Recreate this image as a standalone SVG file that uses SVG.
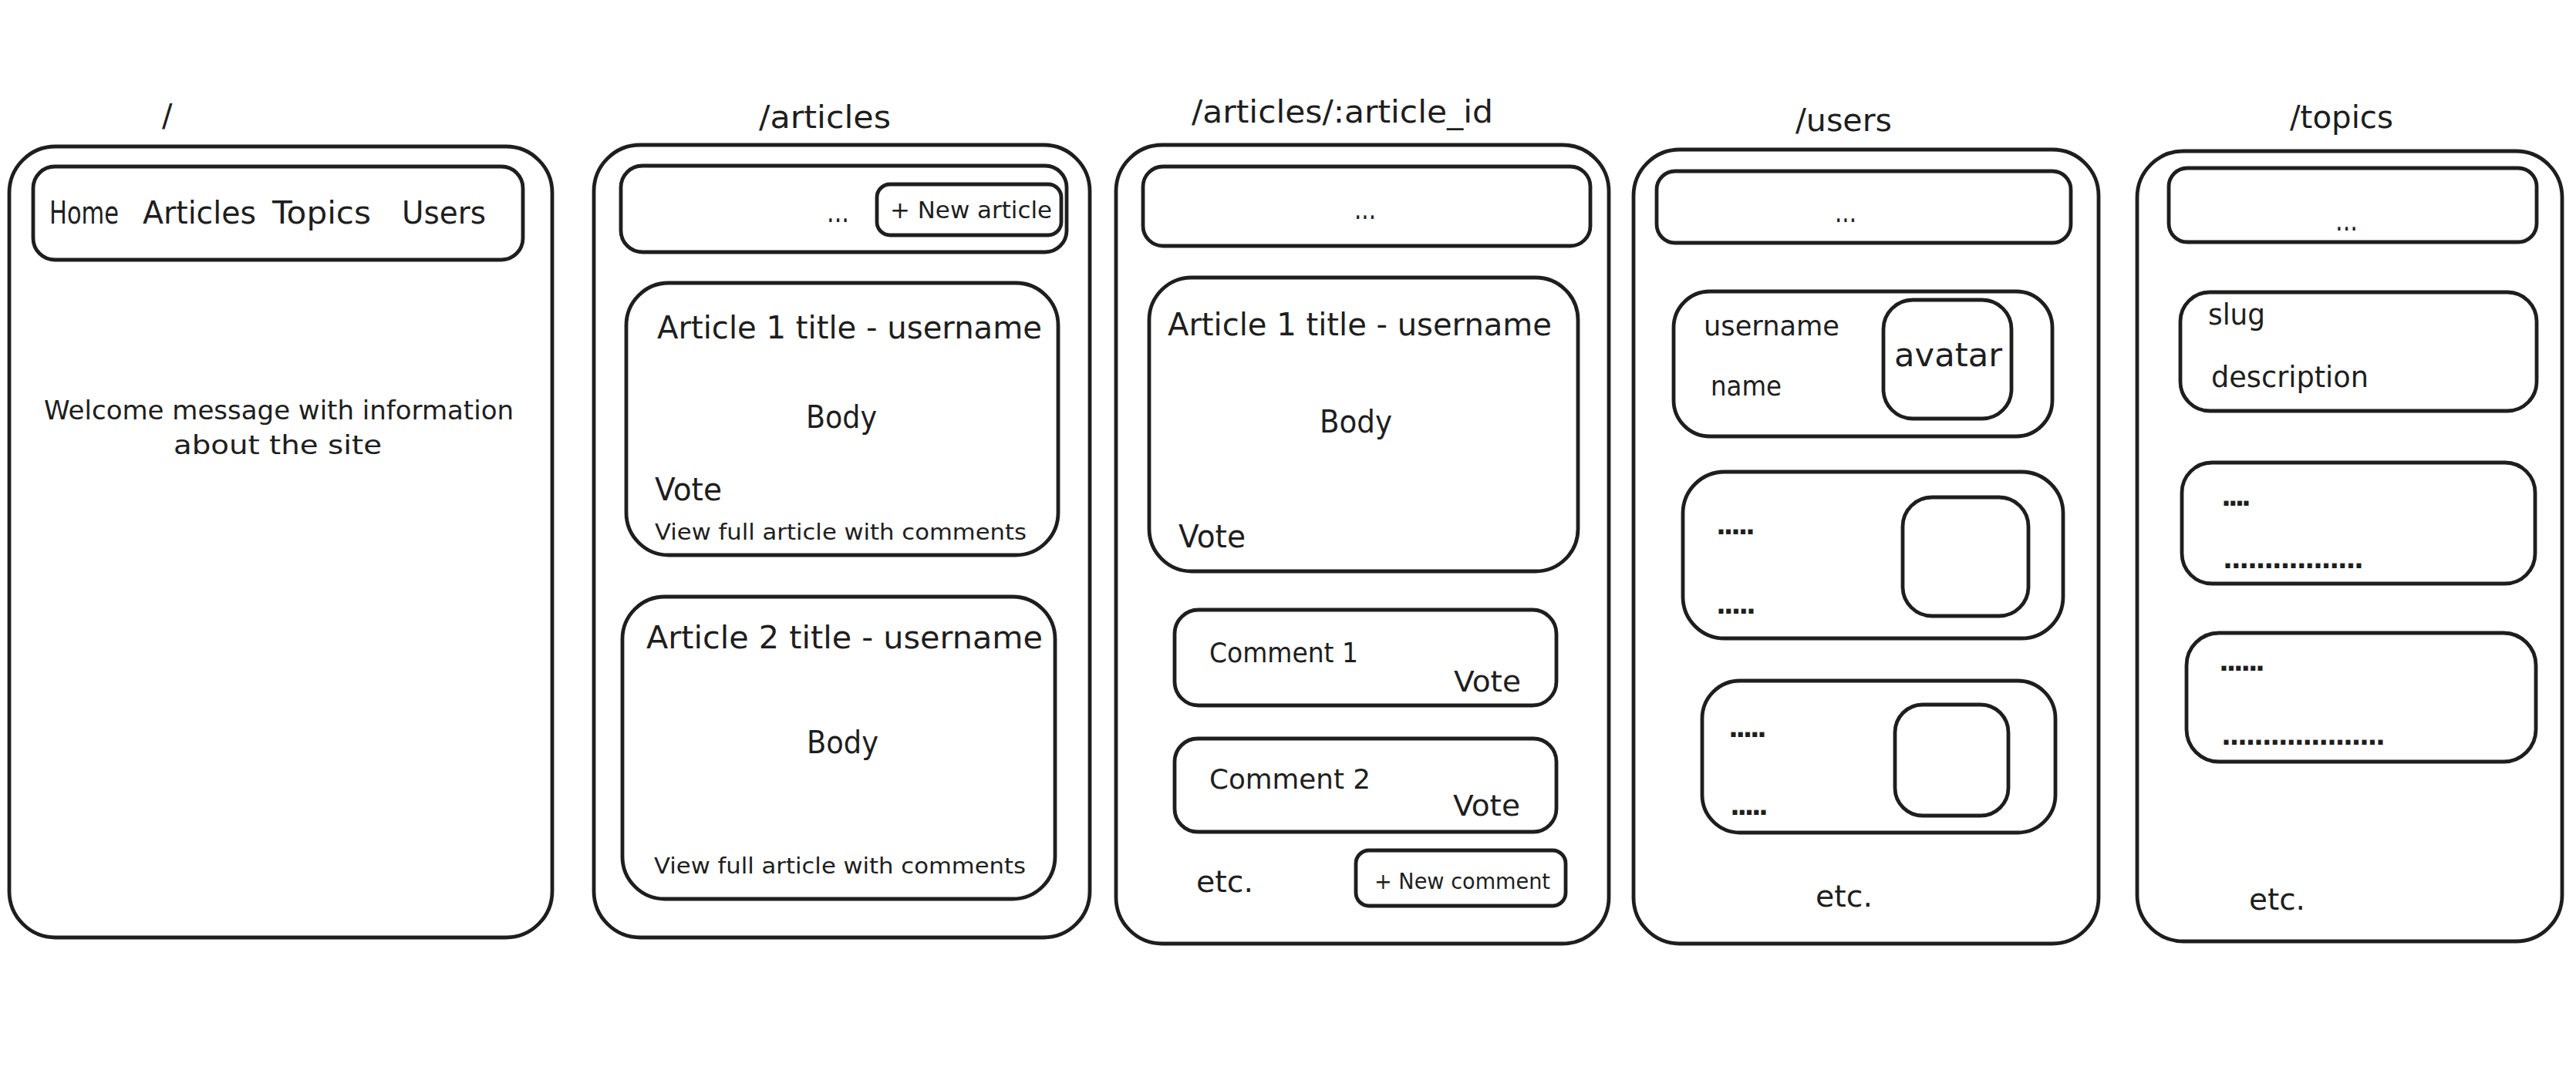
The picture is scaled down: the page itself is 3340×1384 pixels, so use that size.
<svg xmlns="http://www.w3.org/2000/svg" width="3340" height="1384" viewBox="0 0 3340 1384">
<style>
.box{fill:none;stroke:#1e1e1e;stroke-width:4.8;stroke-linejoin:round}
.t{font-family:"DejaVu Sans","Liberation Sans",sans-serif;fill:#1e1e1e}
.title{font-size:40px}
.lg{font-size:40px}
.md{font-size:37px}
.sm{font-size:29px}
.dots{font-size:34px;font-weight:bold}
</style>
<rect width="3340" height="1384" fill="#ffffff"/>

<g id="page-home">
  <text class="t title" x="210" y="164">/</text>
  <rect class="box" x="12" y="190" width="704" height="1026" rx="60"/>
  <g id="home-nav">
    <rect class="box" x="43" y="216" width="635" height="121" rx="28"/>
    <text class="t lg" x="64" y="290" textLength="90" lengthAdjust="spacingAndGlyphs">Home</text>
    <text class="t lg" x="185" y="290" textLength="147" lengthAdjust="spacingAndGlyphs">Articles</text>
    <text class="t lg" x="353" y="290" textLength="128" lengthAdjust="spacingAndGlyphs">Topics</text>
    <text class="t lg" x="521" y="290" textLength="109" lengthAdjust="spacingAndGlyphs">Users</text>
  </g>
  <text class="t" font-size="34" x="57" y="544" textLength="609" lengthAdjust="spacingAndGlyphs">Welcome message with information</text>
  <text class="t" font-size="34" x="225" y="589" textLength="270" lengthAdjust="spacingAndGlyphs">about the site</text>
</g>

<g id="page-articles">
  <text class="t title" x="984" y="166" textLength="171" lengthAdjust="spacingAndGlyphs">/articles</text>
  <rect class="box" x="770" y="188" width="643" height="1028" rx="60"/>
  <g id="articles-nav">
    <rect class="box" x="805" y="215" width="578" height="112" rx="28"/>
    <text class="t md" x="1072" y="288" textLength="29" lengthAdjust="spacingAndGlyphs">...</text>
  </g>
  <g id="articles-new-article">
    <rect class="box" x="1137" y="239" width="239" height="66" rx="17"/>
    <text class="t" font-size="30" x="1154" y="283" textLength="210" lengthAdjust="spacingAndGlyphs">+ New article</text>
  </g>
  <g id="articles-card-1">
    <rect class="box" x="812" y="367" width="560" height="353" rx="55"/>
    <text class="t lg" x="852" y="439" textLength="499" lengthAdjust="spacingAndGlyphs">Article 1 title - username</text>
    <text class="t lg" x="1045" y="555" textLength="92" lengthAdjust="spacingAndGlyphs">Body</text>
    <text class="t lg" x="849" y="649" textLength="87" lengthAdjust="spacingAndGlyphs">Vote</text>
    <text class="t sm" x="849" y="700" textLength="482" lengthAdjust="spacingAndGlyphs">View full article with comments</text>
  </g>
  <g id="articles-card-2">
    <rect class="box" x="807" y="774" width="561" height="392" rx="55"/>
    <text class="t lg" x="838" y="841" textLength="514" lengthAdjust="spacingAndGlyphs">Article 2 title - username</text>
    <text class="t lg" x="1046" y="977" textLength="93" lengthAdjust="spacingAndGlyphs">Body</text>
    <text class="t sm" x="848" y="1133" textLength="482" lengthAdjust="spacingAndGlyphs">View full article with comments</text>
  </g>
</g>

<g id="page-article">
  <text class="t title" x="1545" y="159" textLength="391" lengthAdjust="spacingAndGlyphs">/articles/:article_id</text>
  <rect class="box" x="1447" y="188" width="639" height="1036" rx="60"/>
  <g id="article-nav">
    <rect class="box" x="1482" y="216" width="580" height="103" rx="26"/>
    <text class="t md" x="1756" y="284" textLength="28" lengthAdjust="spacingAndGlyphs">...</text>
  </g>
  <g id="article-card">
    <rect class="box" x="1490" y="360" width="556" height="381" rx="55"/>
    <text class="t lg" x="1514" y="435" textLength="498" lengthAdjust="spacingAndGlyphs">Article 1 title - username</text>
    <text class="t lg" x="1711" y="561" textLength="94" lengthAdjust="spacingAndGlyphs">Body</text>
    <text class="t lg" x="1528" y="710" textLength="87" lengthAdjust="spacingAndGlyphs">Vote</text>
  </g>
  <g id="article-comment-1">
    <rect class="box" x="1523" y="791" width="495" height="124" rx="31"/>
    <text class="t" font-size="35" x="1568" y="859" textLength="193" lengthAdjust="spacingAndGlyphs">Comment 1</text>
    <text class="t md" x="1885" y="897" textLength="87" lengthAdjust="spacingAndGlyphs">Vote</text>
  </g>
  <g id="article-comment-2">
    <rect class="box" x="1523" y="958" width="495" height="121" rx="30"/>
    <text class="t" font-size="35" x="1568" y="1023" textLength="209" lengthAdjust="spacingAndGlyphs">Comment 2</text>
    <text class="t md" x="1884" y="1058" textLength="87" lengthAdjust="spacingAndGlyphs">Vote</text>
  </g>
  <text class="t" font-size="39" x="1551" y="1157" textLength="74" lengthAdjust="spacingAndGlyphs">etc.</text>
  <g id="article-new-comment">
    <rect class="box" x="1758" y="1103" width="272" height="72" rx="17"/>
    <text class="t" font-size="28" x="1782" y="1153" textLength="228" lengthAdjust="spacingAndGlyphs">+ New comment</text>
  </g>
</g>

<g id="page-users">
  <text class="t title" x="2328" y="170" textLength="125" lengthAdjust="spacingAndGlyphs">/users</text>
  <rect class="box" x="2118" y="194" width="603" height="1030" rx="60"/>
  <g id="users-nav">
    <rect class="box" x="2148" y="222" width="537" height="93" rx="24"/>
    <text class="t md" x="2379" y="288" textLength="28" lengthAdjust="spacingAndGlyphs">...</text>
  </g>
  <g id="users-card-1">
    <rect class="box" x="2170" y="378" width="491" height="188" rx="47"/>
    <text class="t" font-size="35" x="2209" y="435" textLength="176" lengthAdjust="spacingAndGlyphs">username</text>
    <text class="t" font-size="35" x="2218" y="513" textLength="92" lengthAdjust="spacingAndGlyphs">name</text>
    <rect class="box" x="2442" y="389" width="166" height="154" rx="38"/>
    <text class="t" font-size="42" x="2456" y="475" textLength="140" lengthAdjust="spacingAndGlyphs">avatar</text>
  </g>
  <g id="users-card-2">
    <rect class="box" x="2182" y="612" width="493" height="216" rx="54"/>
    <text class="t dots" x="2225" y="693" textLength="51">.....</text>
    <text class="t dots" x="2225" y="796" textLength="52">.....</text>
    <rect class="box" x="2467" y="645" width="163" height="154" rx="38"/>
  </g>
  <g id="users-card-3">
    <rect class="box" x="2207" y="883" width="458" height="197" rx="49"/>
    <text class="t dots" x="2241" y="956" textLength="50">.....</text>
    <text class="t dots" x="2243" y="1057" textLength="50">.....</text>
    <rect class="box" x="2457" y="914" width="147" height="144" rx="36"/>
  </g>
  <text class="t" font-size="39" x="2354" y="1176" textLength="74" lengthAdjust="spacingAndGlyphs">etc.</text>
</g>

<g id="page-topics">
  <text class="t title" x="2969" y="166" textLength="134" lengthAdjust="spacingAndGlyphs">/topics</text>
  <rect class="box" x="2771" y="196" width="551" height="1025" rx="60"/>
  <g id="topics-nav">
    <rect class="box" x="2812" y="218" width="477" height="96" rx="24"/>
    <text class="t md" x="3028" y="299" textLength="29" lengthAdjust="spacingAndGlyphs">...</text>
  </g>
  <g id="topics-card-1">
    <rect class="box" x="2827" y="379" width="462" height="154" rx="38"/>
    <text class="t md" x="2863" y="421" textLength="74" lengthAdjust="spacingAndGlyphs">slug</text>
    <text class="t md" x="2867" y="502" textLength="204" lengthAdjust="spacingAndGlyphs">description</text>
  </g>
  <g id="topics-card-2">
    <rect class="box" x="2829" y="600" width="458" height="157" rx="39"/>
    <text class="t dots" x="2880" y="656" textLength="39">....</text>
    <text class="t dots" x="2882" y="737" textLength="183">.................</text>
  </g>
  <g id="topics-card-3">
    <rect class="box" x="2835" y="821" width="453" height="167" rx="42"/>
    <text class="t dots" x="2877" y="870" textLength="60">......</text>
    <text class="t dots" x="2880" y="966" textLength="213">....................</text>
  </g>
  <text class="t" font-size="39" x="2916" y="1180" textLength="73" lengthAdjust="spacingAndGlyphs">etc.</text>
</g>

<g id="connectors"></g>
</svg>
